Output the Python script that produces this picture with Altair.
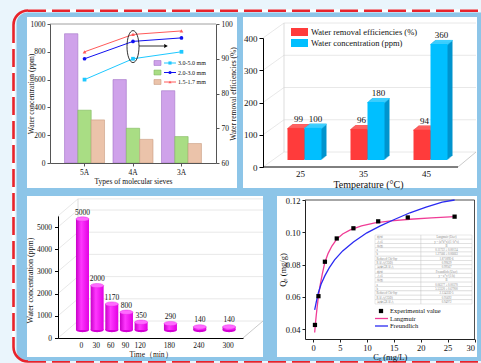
import math
import altair as alt
import pandas as pd

SERIF = "Liberation Serif"
LIGHT = "#EAF5FC"
BLUE = "#8DC5E8"
RED = "#E8232B"

# ---------- molecular sieve comparison ----------
sieve_types = ["5A", "4A", "3A"]
particle_sizes = ["3.0-5.0 mm", "2.0-3.0 mm", "1.5-1.7 mm"]
water_ppm_by_size = [[930, 600, 520], [380, 250, 190], [310, 170, 140]]
removal_pct_by_size = [[84, 90, 92], [90, 95, 96], [92, 97, 98]]
bar_fill = ["#CFA2EA", "#A9DD84", "#EBC3AA"]
bar_edge = ["#A274C8", "#80B85E", "#C99C82"]
line_color = ["#1EC8FF", "#1010F0", "#FF5A5A"]
line_shape = ["square", "circle", "triangle-up"]

# ---------- temperature effect ----------
temperatures = ["25", "35", "45"]
temp_removal_pct = [99, 96, 94]
temp_water_ppm = [100, 180, 360]
temp_series = ["Water removal efficiencies (%)", "Water concentration (ppm)"]

# ---------- drying time ----------
times_min = [0, 30, 60, 90, 120, 180, 240, 300]
time_water_ppm = [5000, 2000, 1170, 800, 350, 290, 140, 140]

# ---------- adsorption isotherm ----------
ce_exp = [0.35, 1.0, 2.2, 4.4, 7.5, 12.1, 17.6, 26.3]
qe_exp = [0.0427, 0.0605, 0.0818, 0.0962, 0.1025, 0.1068, 0.1092, 0.1097]
langmuir_ce = [0.3, 0.45, 0.6, 0.8, 1.0, 1.3, 1.7, 2.2, 2.8, 3.5, 4.4, 5.5,
               7.0, 9.0, 11.5, 14.5, 18.0, 22.0, 26.3]
langmuir_qe = [0.038, 0.044, 0.049, 0.055, 0.0605, 0.067, 0.074, 0.0815, 0.087,
               0.0915, 0.0958, 0.0990, 0.1017, 0.1040, 0.1058, 0.1071, 0.1081,
               0.1089, 0.1097]
freundlich_ce = [0.3, 0.6, 1.0, 1.5, 2.2, 3.0, 4.0, 5.5, 7.5, 10, 12.5, 15, 18,
                 21, 24, 26.3]
freundlich_qe = [0.052, 0.057, 0.0628, 0.068, 0.0732, 0.078, 0.083, 0.0885,
                 0.094, 0.0997, 0.104, 0.1078, 0.1121, 0.1156, 0.1187, 0.1200]
isotherm_legend = ["Experimental value", "Langmuir", "Freundlich"]
langmuir_fit_keys = ["模型", "方程", "绘图", "a", "b", "Reduced Chi-Sqr",
                     "R平方(COD)", "调整后R平方"]
langmuir_fit_vals = ["Langmuir (User)", "y = (a*b*x)/(1+b*x)", "B",
                     "0.11722 ± 0.00134", "1.27566 ± 0.06663", "1.87189E-6",
                     "0.99629", "0.99567"]
freundlich_fit_keys = ["模型", "方程", "绘图", "a", "b", "Reduced Chi-Sqr",
                       "R平方(COD)", "调整后R平方"]
freundlich_fit_vals = ["Freundlich (User)", "y = a*x^(1/b)", "B",
                       "0.06377 ± 0.00370", "5.53320 ± 0.67900", "2.13435E-5",
                       "0.95692", "0.94972"]

# symbol paths
ELLIPSE_V = "M0,-1A0.375,1,0,1,1,0,1A0.375,1,0,1,1,0,-1Z"
ELLIPSE_H = "M-1,0A1,0.33,0,1,1,1,0A1,0.33,0,1,1,-1,0Z"
RECT_SYM = "M-1,-0.7L1,-0.7L1,0.7L-1,0.7Z"

W, H = 210, 173
ONE = pd.DataFrame({"k": [0]})


def box(x, x2, y, y2, **mk):
    return alt.Chart(ONE).mark_rect(**mk).encode(
        x=alt.value(x), x2=alt.value(x2), y=alt.value(y), y2=alt.value(y2))


def seg(x, x2, y, y2, **mk):
    return alt.Chart(ONE).mark_rule(**mk).encode(
        x=alt.value(x), x2=alt.value(x2), y=alt.value(y), y2=alt.value(y2))


def text_at(x, y, label, **mk):
    return alt.Chart(pd.DataFrame({"label": [label]})).mark_text(**mk).encode(
        x=alt.value(x), y=alt.value(y), text="label:N")


def axis_style(size):
    # axes sit above the white panel backgrounds
    return dict(labelFont=SERIF, titleFont=SERIF, labelFontSize=size,
                titleFontSize=size, labelColor="#111", titleColor="#111",
                titleFontWeight="normal", grid=False, zindex=1)


# ---------- outer frame (drawn in the first panel's coordinates) ----------
def outer_frame(ox, oy):
    def X(v):
        return v - ox

    def Y(v):
        return v - oy

    dash = dict(color=RED, strokeWidth=2.6, strokeDash=[18, 6])
    layers = [
        box(X(0), X(481), Y(0), Y(363), color=LIGHT),
        box(X(16.5), X(481), Y(12.5), Y(361), color=BLUE,
            cornerRadiusTopLeft=11, cornerRadiusBottomLeft=11),
        seg(X(28), X(479.5), Y(10.7), Y(10.7), color="white", strokeWidth=2.6),
        seg(X(13.5), X(13.5), Y(25), Y(347), color="white", strokeWidth=2.6),
        seg(X(28), X(479.5), Y(10.7), Y(10.7), **dash),
        seg(X(13.5), X(13.5), Y(25), Y(347), **dash),
        seg(X(28), X(479.5), Y(361.9), Y(361.9), color=RED, strokeWidth=1.8,
            strokeDash=[18, 6]),
    ]
    for cx, cy, t0, t1 in [(28, 25, 1.5 * math.pi, 2 * math.pi),
                           (28, 347, math.pi, 1.5 * math.pi)]:
        layers.append(alt.Chart(ONE).mark_arc(
            theta=t0, theta2=t1, radius=15.8, radius2=13.2, color=RED
        ).encode(x=alt.value(X(cx)), y=alt.value(Y(cy))))
    return layers


# ---------- panel 1: sieve types ----------
p1_rows = []
for i, s in enumerate(particle_sizes):
    for j, t in enumerate(sieve_types):
        p1_rows.append({"sieve": t, "size": s,
                        "ppm": water_ppm_by_size[i][j],
                        "pct": removal_pct_by_size[i][j]})
p1_df = pd.DataFrame(p1_rows)

sieve_scale = alt.Scale(domain=sieve_types, range=[23, 189],
                        paddingInner=0.175, paddingOuter=0.3)
ppm_scale = alt.Scale(domain=[0, 1000], range=[146, 7], nice=False)
pct_scale = alt.Scale(domain=[60, 100], range=[146, 7], nice=False)
AX1 = axis_style(7.5)


def sieve_x(axis=None):
    return alt.X("sieve:N", sort=sieve_types, scale=sieve_scale, axis=axis)


p1_bars = alt.Chart(p1_df).mark_bar(strokeWidth=0.6).encode(
    x=sieve_x(alt.Axis(orient="bottom", offset=-27, title="Types of molecular sieves",
                       labelAngle=0, bandPosition=0.5, tickSize=3, labelPadding=2,
                       titlePadding=2, domainColor="#555", tickColor="#555", **AX1)),
    xOffset=alt.XOffset("size:N", sort=particle_sizes,
                        scale=alt.Scale(domain=particle_sizes, paddingInner=0,
                                        paddingOuter=0)),
    y=alt.Y("ppm:Q", scale=ppm_scale,
            axis=alt.Axis(orient="left", offset=-23, format="d",
                          values=[0, 200, 400, 600, 800, 1000], tickSize=3,
                          labelPadding=2, title="Water concentration (ppm)",
                          titleAngle=270, titleBaseline="middle", titleX=-19,
                          titleY=76.5, domainColor="#555", tickColor="#555", **AX1)),
    color=alt.Color("size:N", scale=alt.Scale(domain=particle_sizes, range=bar_fill),
                    legend=None),
    stroke=alt.Stroke("size:N", scale=alt.Scale(domain=particle_sizes, range=bar_edge),
                      legend=None),
)

p1_lines = []
for i, s in enumerate(particle_sizes):
    d = p1_df[p1_df["size"] == s]
    yax = None
    if i == 0:
        yax = alt.Axis(orient="right", offset=-21, values=[60, 70, 80, 90, 100],
                       tickSize=3, labelPadding=2,
                       title="Water removal efficiencies (%)", titleAngle=270,
                       titleBaseline="middle", titleX=17, titleY=76.5,
                       domainColor="#555", tickColor="#555", **AX1)
    p1_lines.append(alt.Chart(d).mark_line(color=line_color[i], strokeWidth=1).encode(
        x=sieve_x(), y=alt.Y("pct:Q", scale=pct_scale, axis=yax)))
    p1_lines.append(alt.Chart(d).mark_point(
        shape=line_shape[i], filled=True, size=14, color=line_color[i], opacity=1
    ).encode(x=sieve_x(), y=alt.Y("pct:Q", scale=pct_scale, axis=None)))

p1_ring = alt.Chart(pd.DataFrame({"sieve": ["4A"], "pct": [93.5]})).mark_point(
    shape=ELLIPSE_V, size=1024, filled=False, color="black", strokeWidth=0.8, opacity=1
).encode(x=sieve_x(), y=alt.Y("pct:Q", scale=pct_scale, axis=None))
p1_arrow = [
    seg(112, 137, 29, 29, color="black", strokeWidth=0.8),
    alt.Chart(ONE).mark_point(shape="triangle-right", size=18, filled=True,
                              color="black", opacity=1).encode(
        x=alt.value(139), y=alt.value(29)),
]

leg1_y = alt.Scale(type="point", domain=particle_sizes, range=[46, 65], padding=0)
p1_legend = []
for i, s in enumerate(particle_sizes):
    dd = pd.DataFrame({"size": [s]})
    yy = alt.Y("size:N", scale=leg1_y, axis=None)
    p1_legend += [
        alt.Chart(dd).mark_point(shape=RECT_SYM, size=49, filled=True, opacity=1,
                                 fill=bar_fill[i], stroke=bar_edge[i],
                                 strokeWidth=0.6).encode(x=alt.value(130.5), y=yy),
        alt.Chart(dd).mark_rule(color=line_color[i], strokeWidth=1).encode(
            x=alt.value(137), x2=alt.value(149), y=yy),
        alt.Chart(dd).mark_point(shape=line_shape[i], size=10, filled=True,
                                 color=line_color[i], opacity=1).encode(
            x=alt.value(143), y=yy),
        alt.Chart(dd).mark_text(align="left", baseline="middle", font=SERIF,
                                fontSize=6, color="#111").encode(
            x=alt.value(151), y=yy, text="size:N"),
    ]

p1 = alt.layer(
    *outer_frame(27, 17),
    box(0, 210, 0, 171, color="white"),
    seg(23, 189, 7, 7, color="#888", strokeWidth=0.8),
    p1_bars, *p1_lines, p1_ring, *p1_arrow, *p1_legend,
).resolve_scale(y="independent").resolve_axis(x="independent", y="independent") \
 .properties(width=W, height=H)

# ---------- panel 2: temperature (3-D bars) ----------
p2_df = pd.DataFrame({"temp": temperatures, "eff": temp_removal_pct,
                      "conc": temp_water_ppm})
temp_scale = alt.Scale(domain=temperatures, range=[26, 215], paddingInner=0,
                       paddingOuter=0)
p2_y = alt.Scale(domain=[0, 400], range=[150, 21], nice=False)
AX2 = axis_style(9)


def wall(levels, sc, x0, x1, xr, xback, dx, dy, top):
    lv = pd.DataFrame({"lvl": levels})
    yy = alt.Y("lvl:Q", scale=sc, axis=None)
    return [
        alt.Chart(lv).mark_rule(color="#E2E2E2", strokeWidth=0.8, yOffset=dy).encode(
            x=alt.value(x0 + dx), x2=alt.value(xback), y=yy),
        alt.Chart(lv).mark_rule(color="#E2E2E2", strokeWidth=0.8, y2Offset=dy).encode(
            x=alt.value(x0), x2=alt.value(x0 + dx), y=yy, y2=alt.Y2("lvl:Q")),
        alt.Chart(pd.DataFrame({"lo": [0], "hi": [top]})).mark_rule(
            color="#D4D4D4", strokeWidth=0.8, yOffset=dy, y2Offset=dy).encode(
            x=alt.value(x0 + dx), y=alt.Y("lo:Q", scale=sc, axis=None),
            y2=alt.Y2("hi:Q")),
        alt.Chart(pd.DataFrame({"lvl": [0]})).mark_rule(
            color="#BDBDBD", strokeWidth=0.8, y2Offset=dy).encode(
            x=alt.value(x1), x2=alt.value(xr), y=yy, y2=alt.Y2("lvl:Q")),
    ]


def bars3d(field, shift, front, side, top, with_axes):
    xx = alt.X("temp:N", sort=temperatures, scale=temp_scale, axis=None)
    yy = alt.Y(f"{field}:Q", scale=p2_y, axis=None)
    out = []
    for k in range(1, 6):
        out.append(alt.Chart(p2_df).mark_bar(
            width=17, color=side, xOffset=shift + k, yOffset=-7 - 0.8 * k,
            y2Offset=-7 - 0.8 * k).encode(x=xx, y=yy, y2=alt.datum(0)))
    for k in range(0, 6):
        out.append(alt.Chart(p2_df).mark_bar(
            width=17, color=top, xOffset=shift + k, yOffset=-7 - 0.8 * k,
            y2Offset=-7 - 0.8 * k + 1.3).encode(x=xx, y=yy, y2=alt.Y2(f"{field}:Q")))
    if with_axes:
        fx = alt.X("temp:N", sort=temperatures, scale=temp_scale,
                   axis=alt.Axis(orient="bottom", offset=-23, domain=False, ticks=False,
                                 labelAngle=0, labelPadding=2,
                                 title="Temperature (°C)", titlePadding=1,
                                 titleX=125, **{**AX2, "titleFontSize": 10}))
        fy = alt.Y(f"{field}:Q", scale=p2_y,
                   axis=alt.Axis(orient="left", offset=-20,
                                 values=[0, 100, 200, 300, 400], tickSize=4,
                                 labelPadding=2, title=None, domainColor="black",
                                 tickColor="black", **AX2))
    else:
        fx, fy = xx, yy
    out.append(alt.Chart(p2_df).mark_bar(
        width=17, color=front, xOffset=shift, yOffset=-7, y2Offset=-7).encode(
        x=fx, y=fy, y2=alt.datum(0)))
    out.append(alt.Chart(p2_df).mark_text(
        dx=shift + 2.5, dy=-11, baseline="bottom", font=SERIF, fontSize=9,
        color="#111").encode(x=xx, y=yy, text=f"{field}:Q"))
    return out


p2 = alt.layer(
    box(0, 234, 0, 171, color="white"),
    *wall([0, 100, 200, 300, 400], p2_y, 20, 215, 233, 233, 21, -15, 400),
    alt.Chart(pd.DataFrame({"lvl": [0]})).mark_rule(color="black", strokeWidth=1).encode(
        x=alt.value(20), x2=alt.value(215),
        y=alt.Y("lvl:Q", scale=p2_y, axis=None)),
    *bars3d("eff", -4.5, "#FF3B3B", "#D02828", "#FF6262", True),
    *bars3d("conc", 12.5, "#00BFFF", "#0094CE", "#3FD0FF", False),
    box(48, 65, 11, 19, color="#FF3B3B"),
    box(48, 65, 22, 30, color="#00BFFF"),
    text_at(68, 15, temp_series[0], align="left", baseline="middle", font=SERIF,
            fontSize=8.5, color="#111"),
    text_at(68, 26, temp_series[1], align="left", baseline="middle", font=SERIF,
            fontSize=8.5, color="#111"),
).resolve_axis(x="independent", y="independent").properties(width=W, height=H)

# ---------- panel 3: drying time (cylinders) ----------
p3_df = pd.DataFrame({"t": times_min, "ppm": time_water_ppm})
time_scale = alt.Scale(domain=[-36.8, 321.3], range=[31, 216], nice=False, zero=False)
p3_y = alt.Scale(domain=[0, 5500], range=[142, 19.9], nice=False)
AX3 = axis_style(7.5)
cyl_fill = alt.LinearGradient(
    gradient="linear", x1=0, x2=1, y1=0, y2=0,
    stops=[alt.GradientStop(color="#C800C8", offset=0),
           alt.GradientStop(color="#FF38FF", offset=0.4),
           alt.GradientStop(color="#E200E2", offset=1)])

cx = alt.X("t:Q", scale=time_scale, axis=None)
cy = alt.Y("ppm:Q", scale=p3_y, axis=None)
p3_body = alt.Chart(p3_df).mark_bar(
    width=13, color=cyl_fill, xOffset=1.5, yOffset=-8, y2Offset=-8).encode(
    x=alt.X("t:Q", scale=time_scale,
            axis=alt.Axis(orient="bottom", offset=-31, values=times_min, tickSize=0,
                          labelPadding=3, labelOverlap=False, title="Time（min）",
                          titlePadding=2, domainColor="black", **AX3)),
    y=alt.Y("ppm:Q", scale=p3_y,
            axis=alt.Axis(orient="left", offset=-31, format="d",
                          values=[0, 1000, 2000, 3000, 4000, 5000], tickSize=3.5,
                          labelPadding=3, title="Water concentration (ppm)",
                          titleAngle=270, titleBaseline="middle", titleX=-28,
                          titleY=84, domainColor="black", tickColor="black",
                          **{**AX3, "titleFontSize": 8})),
    y2=alt.datum(0),
)
p3_base = alt.Chart(p3_df).mark_point(
    shape=ELLIPSE_H, size=169, filled=True, color="#D400D4", opacity=1,
    xOffset=1.5, yOffset=-8).encode(
    x=cx, y=alt.YDatum(0, scale=p3_y, axis=None))
p3_top = alt.Chart(p3_df).mark_point(
    shape=ELLIPSE_H, size=169, filled=True, fill="#FF6BFF", stroke="#E020E0",
    strokeWidth=0.4, opacity=1, xOffset=1.5, yOffset=-8).encode(x=cx, y=cy)
p3_labels = alt.Chart(p3_df).mark_text(
    dx=1.5, dy=-10.5, baseline="bottom", font=SERIF, fontSize=7.5,
    color="#111").encode(x=cx, y=cy, text="ppm:Q")

p3 = alt.layer(
    box(0, 236, 0, 161, color="white"),
    *wall([0, 1000, 2000, 3000, 4000, 5000, 5500], p3_y, 31, 216, 236, 236, 20, -17,
          5500),
    p3_base, p3_body, p3_top, p3_labels,
).resolve_axis(x="independent", y="independent").properties(width=W, height=H)

# ---------- panel 4: isotherm fits ----------
ce_scale = alt.Scale(domain=[-1.5, 30], range=[62, 231.5], nice=False, zero=False)
qe_scale = alt.Scale(domain=[0.034, 0.12], range=[143, 4], nice=False, zero=False)
AX4 = axis_style(8.5)

lang_df = pd.DataFrame({"ce": langmuir_ce, "qe": langmuir_qe})
freu_df = pd.DataFrame({"ce": freundlich_ce, "qe": freundlich_qe})
exp_df = pd.DataFrame({"ce": ce_exp, "qe": qe_exp})
qx = alt.X("ce:Q", scale=ce_scale, axis=None)
qy = alt.Y("qe:Q", scale=qe_scale, axis=None)

p4_lang = alt.Chart(lang_df).mark_line(color="#F03C96", strokeWidth=1.3).encode(
    x=qx, y=qy, order="ce:Q")
p4_freu = alt.Chart(freu_df).mark_line(color="#2A2AF2", strokeWidth=1.3).encode(
    x=qx, y=qy, order="ce:Q")
p4_pts = alt.Chart(exp_df).mark_square(size=18, color="black", opacity=1).encode(
    x=alt.X("ce:Q", scale=ce_scale,
            axis=alt.Axis(orient="bottom", offset=-30, values=[0, 5, 10, 15, 20, 25, 30],
                          tickSize=3, labelPadding=1, title="Cₑ (mg/L)",
                          titlePadding=1, domainColor="#222", tickColor="#222", **AX4)),
    y=alt.Y("qe:Q", scale=qe_scale,
            axis=alt.Axis(orient="left", offset=-62,
                          values=[0.04, 0.06, 0.08, 0.10, 0.12], format=".2f",
                          tickSize=3, labelPadding=2, title="Qₑ (mg/g)",
                          titleAngle=270, titleBaseline="middle", titleX=-23,
                          titleY=73.5, domainColor="#222", tickColor="#222", **AX4)),
)


def fit_table(keys, vals, y0, y1):
    df = pd.DataFrame({"row": list(range(len(keys))), "key": keys, "val": vals})
    yy = alt.Y("row:O", scale=alt.Scale(type="band", domain=list(range(len(keys))),
                                        range=[y0, y1], paddingInner=0, paddingOuter=0),
               axis=None)
    cell = dict(fill="white", stroke="#C4C4C4", strokeWidth=0.4)
    tiny = dict(font=SERIF, fontSize=3, color="#8A8A8A", baseline="middle")
    return [
        alt.Chart(df).mark_rect(**cell).encode(x=alt.value(132), x2=alt.value(178), y=yy),
        alt.Chart(df).mark_rect(**cell).encode(x=alt.value(178), x2=alt.value(229), y=yy),
        alt.Chart(df).mark_text(align="left", **tiny).encode(
            x=alt.value(133.5), y=yy, text="key:N"),
        alt.Chart(df).mark_text(align="center", **tiny).encode(
            x=alt.value(203.5), y=yy, text="val:N"),
    ]


leg4_y = alt.Scale(type="point", domain=isotherm_legend, range=[115, 130], padding=0)
leg4_df = pd.DataFrame({"name": isotherm_legend})
p4_legend = [
    alt.Chart(leg4_df.iloc[[0]]).mark_square(size=18, color="black", opacity=1).encode(
        x=alt.value(138), y=alt.Y("name:N", scale=leg4_y, axis=None)),
    alt.Chart(leg4_df.iloc[[1]]).mark_rule(color="#F03C96", strokeWidth=1.3).encode(
        x=alt.value(132), x2=alt.value(145), y=alt.Y("name:N", scale=leg4_y, axis=None)),
    alt.Chart(leg4_df.iloc[[2]]).mark_rule(color="#2A2AF2", strokeWidth=1.3).encode(
        x=alt.value(132), x2=alt.value(145), y=alt.Y("name:N", scale=leg4_y, axis=None)),
    alt.Chart(leg4_df).mark_text(align="left", baseline="middle", font=SERIF,
                                 fontSize=6.5, color="#111").encode(
        x=alt.value(147), y=alt.Y("name:N", scale=leg4_y, axis=None), text="name:N"),
]

p4 = alt.layer(
    box(34, 234, 0, 161, color="white"),
    seg(62, 231.5, 4, 4, color="#222", strokeWidth=0.8),
    seg(231.5, 231.5, 4, 143, color="#222", strokeWidth=0.8),
    p4_lang, p4_freu, p4_pts,
    *fit_table(langmuir_fit_keys, langmuir_fit_vals, 39, 73),
    *fit_table(freundlich_fit_keys, freundlich_fit_vals, 73, 108),
    *p4_legend,
).resolve_scale(x="independent", y="independent").properties(width=W, height=H)

chart = alt.concat(p1, p2, p3, p4, columns=2, spacing=6, bounds="flush").properties(
    padding=0, background=LIGHT
).configure(font=SERIF).configure_view(stroke=None)

chart.save("out.html", embed_options={"renderer": "svg", "actions": False})
